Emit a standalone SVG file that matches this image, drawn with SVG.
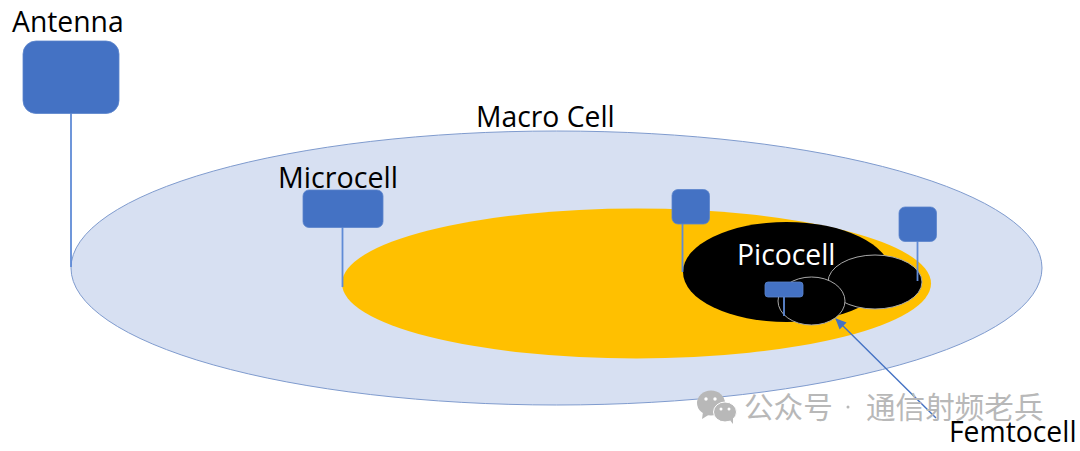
<svg xmlns="http://www.w3.org/2000/svg" width="1080" height="451" viewBox="0 0 1080 451">
<defs>
<style>
.lbl{font-family:"Open Sans","Noto Sans","Liberation Sans",sans-serif;font-size:28.300px;fill:#000}
.ant{fill:#4472c4;stroke:#5b84cc;stroke-width:.8}
.pole{stroke:#5f8bd6;stroke-width:1.800;fill:none}
.wm{font-family:"Noto Sans CJK SC","Noto Sans",sans-serif;font-size:29.600px;fill:#b8b8b8}
</style>
<marker id="ah" markerWidth="12" markerHeight="10" refX="10" refY="5" orient="auto" markerUnits="userSpaceOnUse"><path d="M0 0L11 5L0 10z" fill="#4472c4"/></marker>
</defs>
<rect width="1080" height="451" fill="#fff"/>
<g id="macro-cell"><ellipse cx="556.500" cy="268" rx="485.500" ry="137" fill="#d7e0f2" stroke="#7f9bce" stroke-width="1"/><text class="lbl" x="476" y="127">Macro Cell</text></g>
<g id="microcell"><ellipse cx="636.500" cy="283.500" rx="294.500" ry="75" fill="#ffc000"/></g>
<g id="picocell"><ellipse cx="786.500" cy="272" rx="103.500" ry="50" fill="#000"/><text class="lbl" x="737" y="265" style="fill:#fff">Picocell</text></g>
<g id="femto-a"><ellipse cx="875" cy="282" rx="47" ry="27" fill="#000" stroke="#a8a8a8" stroke-width="1"/></g>
<g id="femto-b"><ellipse cx="811.500" cy="301" rx="33.500" ry="24" fill="#000" stroke="#a8a8a8" stroke-width="1"/></g>
<g id="connectors">
<path class="pole" d="M71 113V267"/>
<path class="pole" d="M342.500 227V287"/>
<path class="pole" d="M682.500 223V272"/>
<path class="pole" d="M917.500 241V281"/>
<path class="pole" d="M784 297V316"/>
<path d="M936 418L836 319" stroke="#4472c4" stroke-width="1.400" fill="none" marker-end="url(#ah)"/>
</g>
<g id="antenna"><rect class="ant" x="23" y="41" width="96" height="72.500" rx="13"/><text class="lbl" x="12" y="32">Antenna</text></g>
<g id="microcell-antenna"><rect class="ant" x="303" y="190" width="80" height="37.500" rx="6"/><text class="lbl" x="278" y="188" textLength="120" lengthAdjust="spacingAndGlyphs">Microcell</text></g>
<g id="antenna-top"><rect class="ant" x="672" y="189.500" width="37.500" height="34.500" rx="6"/></g>
<g id="antenna-right"><rect class="ant" x="899" y="207" width="37.500" height="34.500" rx="6"/></g>
<g id="antenna-femto"><rect class="ant" x="765" y="282" width="38" height="15" rx="3"/></g>
<g id="watermark">
<ellipse cx="711" cy="403" rx="14" ry="12.500" fill="#b8b8b8"/><path d="M703 412l-1 7 8-5z" fill="#b8b8b8"/>
<ellipse cx="725" cy="412" rx="11.500" ry="10" fill="#b8b8b8" stroke="#fff" stroke-width="1"/><path d="M729 419l4 5v-7z" fill="#b8b8b8"/>
<circle cx="706" cy="399" r="1.700" fill="#fff"/><circle cx="715" cy="399" r="1.700" fill="#fff"/><circle cx="721" cy="409" r="1.500" fill="#fff"/><circle cx="729" cy="409" r="1.500" fill="#fff"/>
<text class="wm" x="744" y="418">公众号</text><circle cx="848" cy="407" r="1.500" fill="#b8b8b8"/><text class="wm" x="866" y="418">通信射频老兵</text>
</g>
<g id="femtocell-label"><text class="lbl" x="949" y="442">Femtocell</text></g>
</svg>
